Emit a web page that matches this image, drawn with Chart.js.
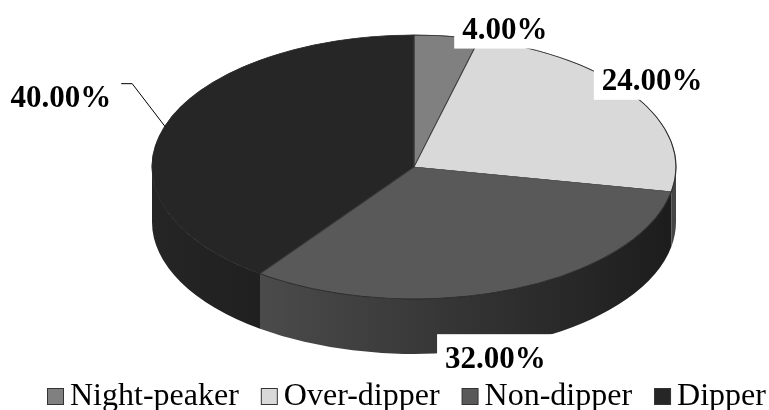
<!DOCTYPE html>
<html><head><meta charset="utf-8">
<script src="https://cdn.jsdelivr.net/npm/chart.js@4"></script>
<style>html,body{margin:0;padding:0;background:#fff;overflow:hidden}</style>
</head><body>
<canvas id="c" width="769" height="410"></canvas>
<script>
// ---- data ----
const categories = ['Night-peaker', 'Over-dipper', 'Non-dipper', 'Dipper'];
const values = [4, 24, 32, 40];
const sliceColors = ['#808080', '#d9d9d9', '#595959', '#262626'];

const total = values.reduce((a, b) => a + b, 0);
const percentLabels = values.map(v => (v / total * 100).toFixed(2) + '%');

function shade(hex, f) {
  const n = parseInt(hex.slice(1), 16);
  const r = Math.round(((n >> 16) & 255) * f), g = Math.round(((n >> 8) & 255) * f), b = Math.round((n & 255) * f);
  return `rgb(${r},${g},${b})`;
}

const pie3d = {
  id: 'pie3d',
  beforeDatasetsDraw(chart, args, o) {
    const ctx = chart.ctx;
    const arcs = chart.getDatasetMeta(0).data;
    const colors = chart.data.datasets[0].backgroundColor;
    // side walls (front half only)
    arcs.forEach((arc, i) => {
      const p = arc.getProps(['startAngle', 'endAngle']);
      const s = Math.max(p.startAngle, 0), e = Math.min(p.endAngle, Math.PI);
      if (e <= s) return;
      const g = ctx.createLinearGradient(o.cx - o.rx, 0, o.cx + o.rx, 0);
      g.addColorStop(0, shade(colors[i], 0.98));
      g.addColorStop(1, shade(colors[i], 0.32));
      ctx.beginPath();
      ctx.ellipse(o.cx, o.cy, o.rx, o.ry, 0, s, e, false);
      ctx.lineTo(o.cx + o.rx * Math.cos(e), o.cy + o.ry * Math.sin(e) + o.depth);
      ctx.ellipse(o.cx, o.cy + o.depth, o.rx, o.ry, 0, e, s, true);
      ctx.closePath();
      ctx.fillStyle = g;
      ctx.fill();
    });
    // project the library's circular pie onto the tilted top face
    const a0 = arcs[0];
    const R = a0.outerRadius;
    ctx.save();
    ctx.translate(o.cx, o.cy);
    ctx.scale(o.rx / R, o.ry / R);
    ctx.translate(-a0.x, -a0.y);
  },
  afterDatasetsDraw(chart, args, o) {
    const ctx = chart.ctx;
    ctx.restore();
    const arcs = chart.getDatasetMeta(0).data;
    // rim
    ctx.beginPath();
    ctx.ellipse(o.cx, o.cy, o.rx, o.ry, 0, 0, Math.PI * 2);
    ctx.strokeStyle = 'rgba(20,20,20,0.7)';
    ctx.lineWidth = 0.8;
    ctx.stroke();
    // data labels
    const fs = o.labelSize;
    ctx.font = `bold ${fs}px 'Liberation Serif', 'Times New Roman', serif`;
    ctx.textAlign = 'left';
    ctx.textBaseline = 'alphabetic';
    arcs.forEach((arc, i) => {
      const p = arc.getProps(['startAngle', 'endAngle']);
      const mid = (p.startAngle + p.endAngle) / 2;
      const ax = o.cx + o.rx * Math.cos(mid), ay = o.cy + o.ry * Math.sin(mid);
      const [dx, dy] = o.labelOffsets[i];
      const text = percentLabels[i];
      const w = ctx.measureText(text).width;
      const left = ax + dx - w / 2;
      const base = ay + dy + 0.34 * fs;
      const top = base - 0.68 * fs;
      ctx.fillStyle = '#fff';
      ctx.fillRect(left - 8, top - 13, w + 16, (base + 10) - (top - 13));
      ctx.fillStyle = '#000';
      ctx.fillText(text, left, base);
      if (o.leaders[i]) {
        ctx.beginPath();
        ctx.moveTo(left + w + 10, top - 2);
        ctx.lineTo(left + w + 21, top - 2);
        ctx.lineTo(ax, ay);
        ctx.strokeStyle = '#000';
        ctx.lineWidth = 1;
        ctx.stroke();
      }
    });
  }
};

const legendRow = {
  id: 'legendRow',
  afterDraw(chart, args, o) {
    const ctx = chart.ctx;
    const colors = chart.data.datasets[0].backgroundColor;
    ctx.font = `${o.size}px 'Liberation Serif', 'Times New Roman', serif`;
    ctx.textAlign = 'left';
    ctx.textBaseline = 'alphabetic';
    let x = o.x;
    chart.data.labels.forEach((lab, i) => {
      ctx.fillStyle = colors[i];
      ctx.fillRect(x + 0.5, o.boxTop + 0.5, o.box, o.box);
      ctx.strokeStyle = '#333';
      ctx.lineWidth = 1;
      ctx.strokeRect(x + 0.5, o.boxTop + 0.5, o.box, o.box);
      x += o.box + o.gap;
      ctx.fillStyle = '#000';
      ctx.fillText(lab, x, o.baseline);
      x += ctx.measureText(lab).width + o.itemGap;
    });
  }
};

new Chart(document.getElementById('c'), {
  type: 'pie',
  data: {
    labels: categories,
    datasets: [{
      data: values,
      backgroundColor: sliceColors,
      borderColor: '#3c3c3c',
      borderWidth: 0.8
    }]
  },
  options: {
    responsive: false,
    animation: false,
    devicePixelRatio: 1,
    layout: { padding: 0 },
    plugins: {
      legend: { display: false },
      tooltip: { enabled: false },
      pie3d: {
        cx: 414, cy: 167, rx: 262, ry: 132, depth: 55,
        labelSize: 31,
        labelOffsets: [[58, -8], [17, -17], [-15, 68], [-104, -30]],
        leaders: [false, false, false, true]
      },
      legendRow: { x: 47, box: 16, gap: 7, itemGap: 22, size: 32, baseline: 405, boxTop: 388 }
    }
  },
  plugins: [pie3d, legendRow]
});
</script>
</body></html>
